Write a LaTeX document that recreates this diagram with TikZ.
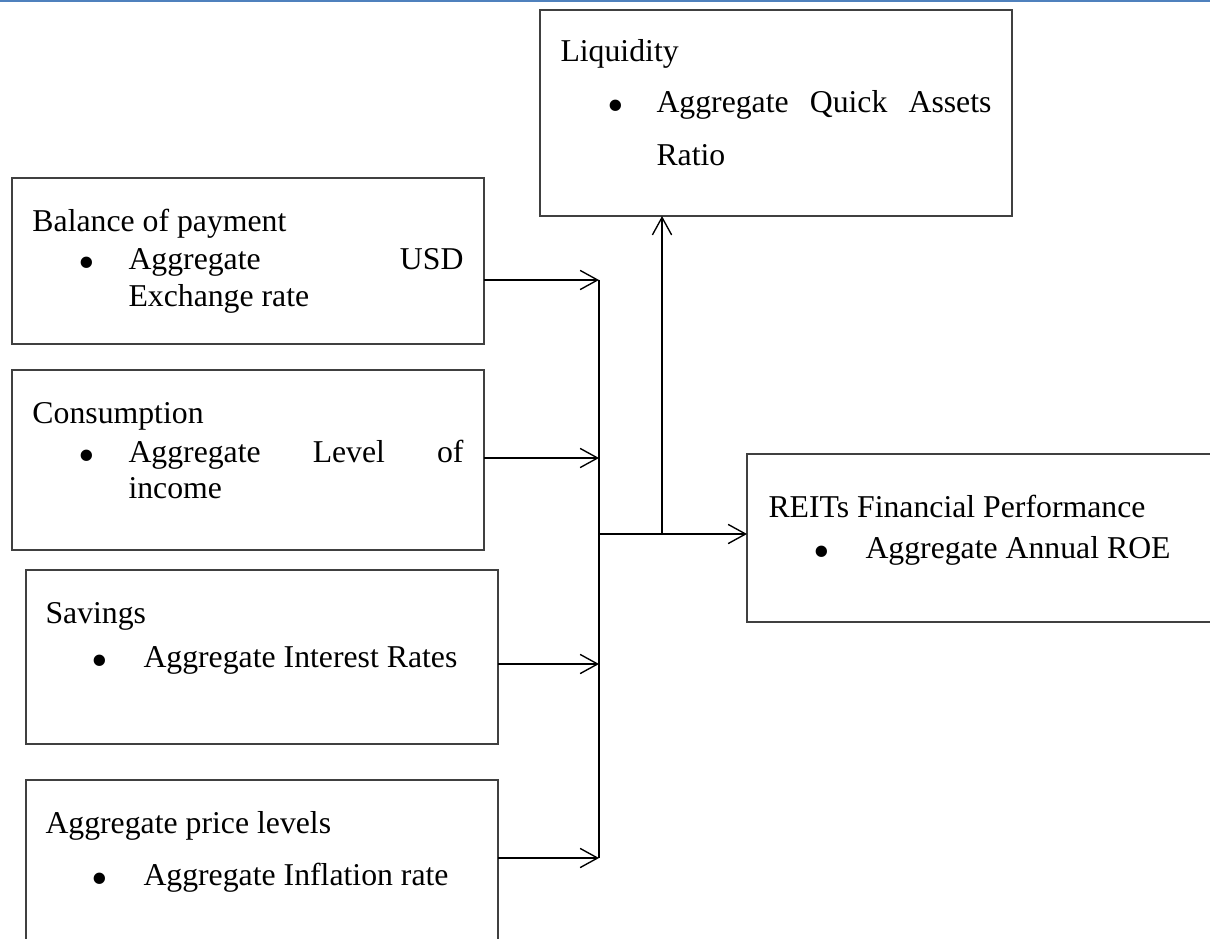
\documentclass[tikz,border=0pt]{standalone}
\usepackage{fontspec}
\setmainfont{Liberation Serif}
\usetikzlibrary{arrows.meta}
\definecolor{ruleblue}{RGB}{79,129,189}
\tikzset{
    boxnode/.style={
        draw=black!75,
        line width=0.5pt,
        anchor=north west,
        inner sep=0pt,
        outer sep=0pt,
        minimum width=188.8pt
    },
    headtext/.style={
        font=\fontsize{12.7}{14}\selectfont,
        anchor=base west,
        inner sep=0pt
    },
    dottext/.style={
        font=\fontsize{19}{19}\selectfont,
        anchor=base,
        inner sep=0pt
    },
    link/.style={
        line width=0.55pt,
        -{Straight Barb[length=7pt,width=7.7pt]}
    }
}

\begin{document}
\begin{tikzpicture}[x=0.4pt,y=-0.4pt]
\useasboundingbox (0,0) rectangle (1210,938);
\clip (0,0) rectangle (1210,938);
\draw[ruleblue, line width=0.8pt] (0,1) -- (1210,1);

\node[boxnode, minimum height=82.4pt] (liq) at (540,10) {};
\node[boxnode, minimum height=66.4pt] (bop) at (12,178) {};
\node[boxnode, minimum height=72pt] (cons) at (12,370) {};
\node[boxnode, minimum height=69.6pt] (sav) at (26,570) {};
\node[boxnode, minimum height=80pt] (price) at (26,780) {};
\node[boxnode, minimum width=200pt, minimum height=67.2pt] (reit) at (747,454) {};

\node[headtext] (liqhead) at (560,62) {Liquidity};
\node[dottext] (liqdot) at (616,122) {•};
\node[headtext] (liqitem) at (656,113) {\makebox[134pt][s]{Aggregate\hfill Quick\hfill Assets}};
\node[headtext] (liqitemb) at (656,166) {Ratio};

\node[headtext] (bophead) at (32,232) {Balance of payment};
\node[dottext] (bopdot) at (87,279) {•};
\node[headtext] (bopitem) at (128,270) {\makebox[134pt][s]{Aggregate\hfill USD}};
\node[headtext] (bopitemb) at (128,307) {Exchange rate};

\node[headtext] (conshead) at (32,423) {Consumption};
\node[dottext] (consdot) at (87,471) {•};
\node[headtext] (consitem) at (128,462) {\makebox[134pt][s]{Aggregate\hfill Level\hfill of}};
\node[headtext] (consitemb) at (128,498) {income};

\node[headtext] (savhead) at (45,623) {Savings};
\node[dottext] (savdot) at (100,676) {•};
\node[headtext] (savitem) at (143,667) {Aggregate Interest Rates};

\node[headtext] (pricehead) at (45,833) {Aggregate price levels};
\node[dottext] (pricedot) at (100,894) {•};
\node[headtext] (priceitem) at (143,885) {Aggregate Inflation rate};

\node[headtext] (reithead) at (768,517) {REITs Financial Performance};
\node[dottext] (reitdot) at (822,567) {•};
\node[headtext] (reititem) at (865,558) {Aggregate Annual ROE};

\coordinate (j1) at (599,280);
\coordinate (j2) at (599,458);
\coordinate (j3) at (599,664);
\coordinate (j4) at (599,858);
\coordinate (hub) at (599,534);
\coordinate (tap) at (662,534);

\draw[line width=0.8pt] (j1) -- (j4);
\draw[link] (bop.east |- j1) -- (j1);
\draw[link] (cons.east |- j2) -- (j2);
\draw[link] (sav.east |- j3) -- (j3);
\draw[link] (price.east |- j4) -- (j4);
\draw[link] (hub) -- (reit.west |- hub);
\draw[link] (tap) -- (liq.south -| tap);
\end{tikzpicture}
\end{document}
